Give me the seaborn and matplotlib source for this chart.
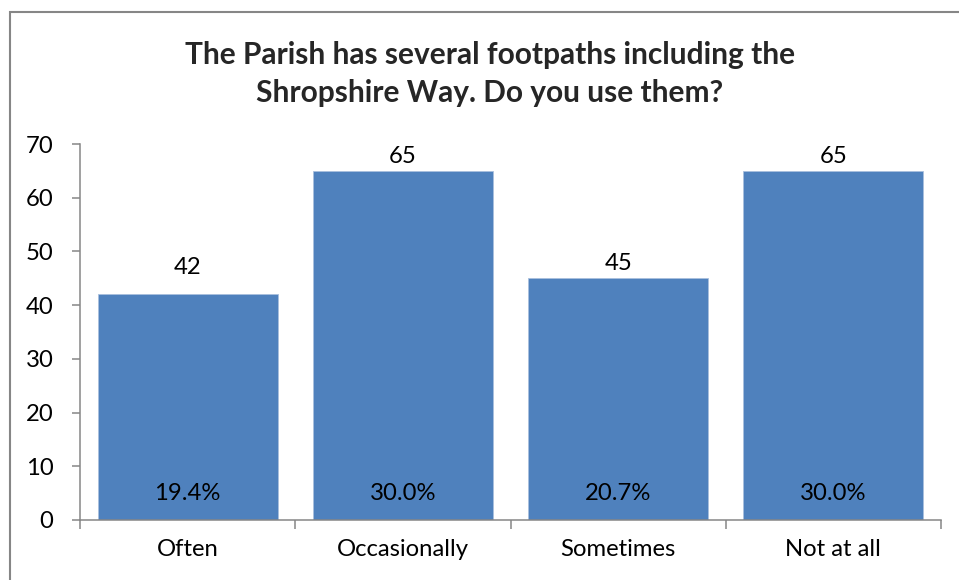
import matplotlib.pyplot as plt
import seaborn as sns
from matplotlib.patches import Rectangle
from matplotlib.ticker import FixedLocator

categories = ["Often", "Occasionally", "Sometimes", "Not at all"]
counts = [42, 65, 45, 65]
percents = ["19.4%", "30.0%", "20.7%", "30.0%"]
title = "The Parish has several footpaths including the\nShropshire Way. Do you use them?"

sns.set_theme(style="white")
plt.rcParams["font.family"] = ["Lato", "DejaVu Sans"]

axis_grey = "#868686"
bar_blue = "#4F81BD"
label_size = 17.2

fig = plt.figure(figsize=(9.59, 5.80), dpi=100)
ax = fig.add_axes([80 / 959, 1 - 520 / 580, 861 / 959, 376 / 580])

sns.barplot(x=categories, y=counts, color=bar_blue, saturation=1, width=0.836,
            edgecolor="#A9C0DE", linewidth=0.6, ax=ax)

ax.set_xlim(-0.5, len(categories) - 0.5)
ax.set_ylim(0, 70)
ax.set_yticks(range(0, 71, 10))
ax.set_xlabel("")
ax.set_ylabel("")

# category boundaries get the ticks, labels sit between them
ax.xaxis.set_major_locator(FixedLocator([i - 0.5 for i in range(len(categories) + 1)]))
ax.xaxis.set_minor_locator(FixedLocator(range(len(categories))))
ax.set_xticklabels([""] * (len(categories) + 1))
ax.set_xticklabels(categories, minor=True)
ax.tick_params(axis="x", which="major", length=6.5, width=1.1, color=axis_grey, direction="out", bottom=True)
ax.tick_params(axis="x", which="minor", length=0, pad=14, labelsize=label_size, labelcolor="black")
ax.tick_params(axis="y", length=6, width=1.1, color=axis_grey, direction="out", left=True,
               pad=13, labelsize=label_size, labelcolor="black")

for side in ["top", "right"]:
    ax.spines[side].set_visible(False)
for side in ["left", "bottom"]:
    ax.spines[side].set_color(axis_grey)
    ax.spines[side].set_linewidth(1.1)

# the first label sits a little higher in the original
offsets = [12, 3, 3, 3]
for i, (c, p) in enumerate(zip(counts, percents)):
    ax.annotate(str(c), (i, c), xytext=(0, offsets[i]), textcoords="offset points",
                ha="center", va="bottom", fontsize=label_size, color="black")
    ax.text(i, 5, p, ha="center", va="center", fontsize=label_size, color="black")

fig.text(490 / 959, 1 - 74 / 580, title, ha="center", va="center",
         fontsize=21.5, fontweight="bold", linespacing=1.45)

fig.patches.append(Rectangle((10 / 959, -0.05), 1.0, 1.05 - 12 / 580,
                             transform=fig.transFigure, fill=False,
                             edgecolor=axis_grey, linewidth=1.5))

plt.savefig("out.png", dpi=100)
